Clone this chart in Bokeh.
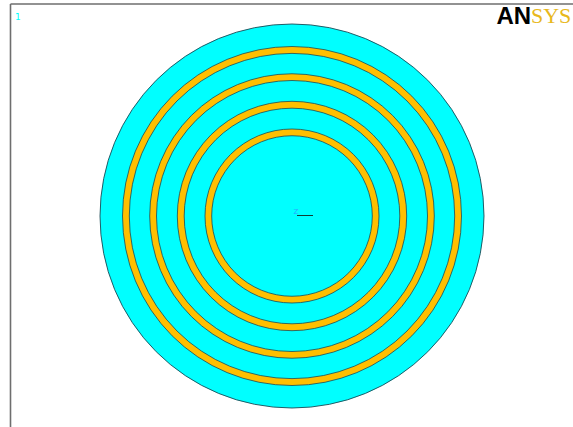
from bokeh.plotting import figure
from bokeh.embed import file_html
from bokeh.resources import INLINE
from bokeh.core.properties import value
from bokeh.models import ColumnDataSource

# Model radii (centre at origin)
disc_radius = [192.0]
ring_outer = [169.5, 142.3, 114.7, 87.0]
ring_inner = [162.7, 135.5, 107.8, 80.3]
center_x = [0.0, 0.0, 0.0, 0.0]
center_y = [0.0, 0.0, 0.0, 0.0]
window_label = ["1"]
triad_label = ["Z"]
triad_x = [5.0]
triad_end = [21.0]

EDGE = "#1d4a55"
CYAN = "#00ffff"
ORANGE = "#ffbf00"

p = figure(width=573, height=427, output_backend="svg", toolbar_location=None,
           x_range=(-291.5, 281.5), y_range=(-211.5, 215.5), min_border=0,
           x_axis_location=None, y_axis_location=None, tools="")
p.grid.visible = False
p.outline_line_color = None
p.background_fill_color = "white"
p.border_fill_color = "white"

# Window frame (top and left only)
p.segment(x0=[-281.5, -281.5], y0=[212, 212], x1=[281.5, -281.5], y1=[212, -211.5],
          line_color="#6e6e6e", line_width=1.6)

# Disc
p.circle(x=[0.0], y=[0.0], radius=disc_radius, fill_color=CYAN,
         line_color=EDGE, line_width=0.9)

# Rings
rings = ColumnDataSource(dict(x=center_x, y=center_y, inner=ring_inner, outer=ring_outer))
p.annulus(x="x", y="y", inner_radius="inner", outer_radius="outer", source=rings,
          fill_color=ORANGE, line_color=EDGE, line_width=0.8)

# Triad
p.segment(x0=triad_x, y0=[0.5], x1=triad_end, y1=[0.5], line_color="#123c34", line_width=1)
p.text(x=[1.5], y=[0.0], text=triad_label, text_font_size="7px", text_color="#2aa8ff",
       text_font=value("DejaVu Sans"), text_baseline="bottom", text_align="left")

# Window number
p.text(x=[-277], y=[200], text=window_label, text_font_size="9px", text_color=CYAN,
       text_font=value("DejaVu Sans"), text_baseline="middle", text_align="left")

# Logo
p.text(x=[204.5], y=[200.5], text=["AN"], text_font_size="24px", text_color="black",
       text_font=value("Liberation Sans"), text_font_style="bold",
       text_baseline="middle", text_align="left")
p.text(x=[239], y=[200.5], text=["SYS"], text_font_size="22px", text_color="#e8b81c",
       text_font=value("Liberation Serif"), text_baseline="middle", text_align="left")

open("out.html", "w").write(file_html(p, INLINE))
